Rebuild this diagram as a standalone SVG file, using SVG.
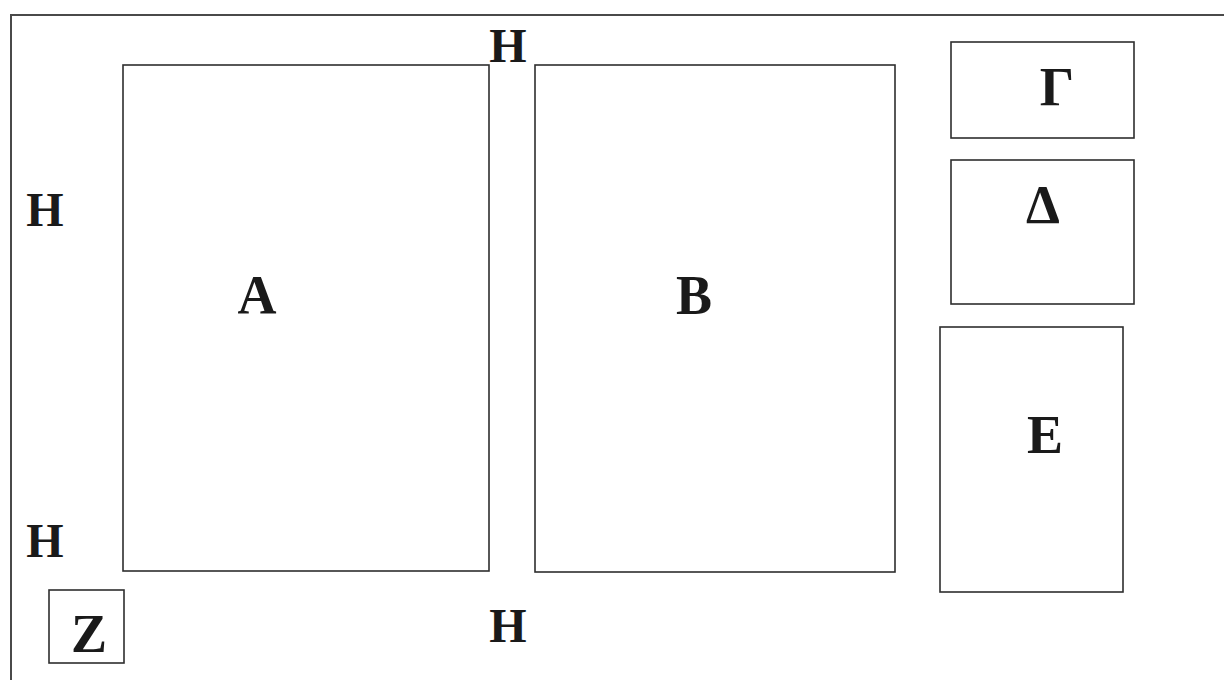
<svg xmlns="http://www.w3.org/2000/svg" width="1224" height="680" viewBox="0 0 1224 680">
  <style>
    .box { fill: none; stroke: #2e2e2e; stroke-width: 1.6; }
    .frame { fill: none; stroke: #4a4a4a; stroke-width: 2; }
    .lbl { font-family: "Liberation Serif", "Times New Roman", serif; font-weight: bold; font-size: 54px; fill: #1a1a1a; text-anchor: middle; }
    .h { font-size: 48px; }
  </style>
  <rect width="1224" height="680" fill="#ffffff"/>
  <g id="frame">
    <polyline class="frame" points="11,680 11,15 1224,15"/>
  </g>
  <g id="connectors"></g>
  <g id="node-A">
    <rect class="box" x="123" y="65" width="366" height="506"/>
    <text class="lbl" x="257" y="313">Α</text>
  </g>
  <g id="node-B">
    <rect class="box" x="535" y="65" width="360" height="507"/>
    <text class="lbl" x="694" y="313">Β</text>
  </g>
  <g id="node-G">
    <rect class="box" x="951" y="42" width="183" height="96"/>
    <text class="lbl" x="1057" y="105">Γ</text>
  </g>
  <g id="node-D">
    <rect class="box" x="951" y="160" width="183" height="144"/>
    <text class="lbl" x="1043" y="223">Δ</text>
  </g>
  <g id="node-E">
    <rect class="box" x="940" y="327" width="183" height="265"/>
    <text class="lbl" x="1045" y="453">Ε</text>
  </g>
  <g id="node-Z">
    <rect class="box" x="49" y="590" width="75" height="73"/>
    <text class="lbl" x="89" y="652">Ζ</text>
  </g>
  <g id="labels-H">
    <text class="lbl h" x="45" y="226">Η</text>
    <text class="lbl h" x="45" y="557">Η</text>
    <text class="lbl h" x="508" y="62">Η</text>
    <text class="lbl h" x="508" y="642">Η</text>
  </g>
</svg>
